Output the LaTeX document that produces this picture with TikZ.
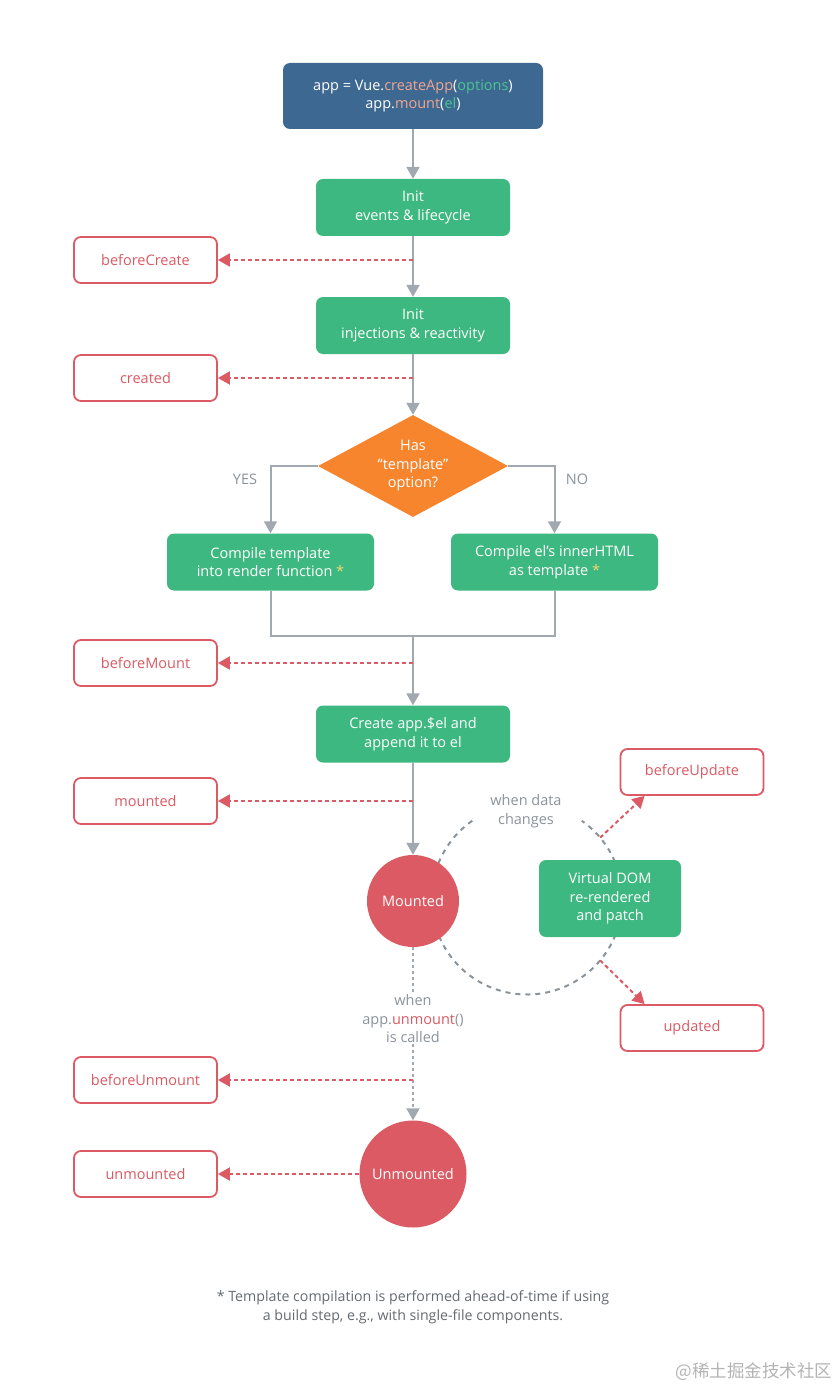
\documentclass[tikz,border=0pt]{standalone}
\usepackage{fontspec}
\setmainfont{Open Sans}
\newfontfamily\cjkfont{Noto Sans CJK SC}
\usepackage{xcolor}
\usetikzlibrary{arrows.meta,shapes.geometric,positioning}
\definecolor{appblue}{HTML}{3D6892}
\definecolor{flowgreen}{HTML}{3DB880}
\definecolor{askorange}{HTML}{F6852E}
\definecolor{hookred}{HTML}{DB5A63}
\definecolor{linegray}{HTML}{A1A8AF}
\definecolor{notegray}{HTML}{8B939B}
\definecolor{footgray}{HTML}{666B70}
\definecolor{fnsalmon}{HTML}{F3A58E}
\definecolor{argteal}{HTML}{4CC58E}
\definecolor{stargold}{HTML}{F5D874}
\definecolor{markgray}{HTML}{B4B4B4}
\tikzset{
    box-text/.style = {align=center, font=\fontsize{14.5}{18.5}\selectfont},
    app-box/.style = {box-text, fill=appblue, text=white, rounded corners=7pt, minimum width=260pt, minimum height=66pt, inner sep=0pt},
    flow-box/.style = {box-text, fill=flowgreen, text=white, rounded corners=7pt, minimum width=194pt, minimum height=57pt, inner sep=0pt},
    hook-box/.style = {box-text, draw=hookred, line width=1.8pt, fill=white, text=hookred, rounded corners=7pt, minimum width=143pt, minimum height=46pt, inner sep=0pt},
    decision/.style = {box-text, diamond, fill=askorange, text=white, inner sep=0pt, shape aspect=1.86, minimum width=190pt, minimum height=102pt},
    state-circle/.style = {box-text, circle, fill=hookred, text=white, inner sep=0pt},
    note-text/.style = {box-text, text=notegray, inner sep=1pt},
    flow-line/.style = {draw=linegray, line width=2pt},
    flow-arrow/.style = {flow-line, -{Triangle[length=12pt,width=13pt]}},
    dotted-line/.style = {flow-line, dash pattern=on 3pt off 3pt},
    hook-arrow/.style = {draw=hookred, line width=2pt, dash pattern=on 4pt off 3pt, -{Triangle[length=12pt,width=13pt]}},
    loop-line/.style = {draw=notegray, line width=2pt, dash pattern=on 5pt off 5pt},
}
\newcommand{\tplstar}{\textcolor{stargold}{*}}

\begin{document}
\begin{tikzpicture}[x=1pt,y=1pt]
\fill[white] (0,0) rectangle (838,-1388);
\useasboundingbox (0,0) rectangle (838,-1388);

% update loop, behind the nodes
\coordinate (loop) at (527,-899);
\draw[loop-line] ([shift={(125:95.5pt)}]loop) arc[start angle=125, end angle=415, radius=95.5pt];

% main flow
\node[app-box] (app) at (413,-96) {app = Vue.\textcolor{fnsalmon}{createApp}(\textcolor{argteal}{options})\\app.\textcolor{fnsalmon}{mount}(\textcolor{argteal}{el})};
\node[flow-box] (init-events) at (413,-207.5) {Init\\events \& lifecycle};
\node[flow-box] (init-inject) at (413,-325.5) {Init\\injections \& reactivity};
\node[decision] (has-tpl) at (413,-466) {Has\\“template”\\option?};
\node[flow-box, minimum width=207pt] (compile-tpl) at (270.5,-562) {Compile template\\into render function \tplstar};
\node[flow-box, minimum width=207pt] (compile-html) at (554.5,-562) {Compile el’s innerHTML\\as template \tplstar};
\coordinate (merge) at (413,-636);
\node[flow-box] (create-el) at (413,-734) {Create app.\$el and\\append it to el};
\node[state-circle, minimum size=92pt] (mounted) at (413,-901) {Mounted};
\node[flow-box, minimum width=142pt, minimum height=77pt] (vdom) at (610,-898.5) {Virtual DOM\\re-rendered\\and patch};
\node[note-text] (unmount-when) at (413,-1019) {when\\app.\textcolor{hookred}{unmount}()\\is called};
\node[state-circle, minimum size=107pt] (unmounted) at (413,-1174) {Unmounted};

% labels
\node[note-text] (yes) at (245,-479) {YES};
\node[note-text] (no) at (577,-479) {NO};
\node[note-text] (data-changes) at (526,-811) {when data\\changes};

% hooks
\node[hook-box] (before-create) at (145.5,-260) {beforeCreate};
\node[hook-box] (created) at (145.5,-378) {created};
\node[hook-box] (before-mount) at (145.5,-663) {beforeMount};
\node[hook-box] (mounted-hook) at (145.5,-801) {mounted};
\node[hook-box] (before-update) at (692,-772) {beforeUpdate};
\node[hook-box] (updated) at (692,-1028) {updated};
\node[hook-box] (before-unmount) at (145.5,-1080) {beforeUnmount};
\node[hook-box] (unmounted-hook) at (145.5,-1174) {unmounted};

% connectors
\draw[flow-arrow] (app) -- (init-events);
\draw[flow-arrow] (init-events) -- (init-inject);
\draw[flow-arrow] (init-inject) -- (has-tpl);
\draw[flow-arrow] (has-tpl.west) -| (compile-tpl.north);
\draw[flow-arrow] (has-tpl.east) -| (compile-html.north);
\draw[flow-line] (compile-tpl.south) |- (merge) -| (compile-html.south);
\draw[flow-arrow] (merge) -- (create-el);
\draw[flow-arrow] (create-el) -- (mounted);
\draw[dotted-line] (mounted) -- (unmount-when);
\draw[dotted-line, -{Triangle[length=12pt,width=13pt]}] (unmount-when) -- (unmounted);

\draw[hook-arrow] (init-events.south |- before-create) -- (before-create.east);
\draw[hook-arrow] (init-inject.south |- created) -- (created.east);
\draw[hook-arrow] (merge |- before-mount) -- (before-mount.east);
\draw[hook-arrow] (create-el.south |- mounted-hook) -- (mounted-hook.east);
\draw[hook-arrow] ([shift={(40:95.5pt)}]loop) -- ([xshift=25pt]before-update.south west);
\draw[hook-arrow] ([shift={(-40:95.5pt)}]loop) -- ([xshift=25pt]updated.north west);
\draw[hook-arrow] (unmounted.north |- before-unmount) -- (before-unmount.east);
\draw[hook-arrow] (unmounted) -- (unmounted-hook);

% footnote
\node[box-text, text=footgray, font=\fontsize{14.2}{19}\selectfont] (footnote) at (413,-1307) {* Template compilation is performed ahead-of-time if using\\a build step, e.g., with single-file components.};
\node[text=markgray, font=\cjkfont\fontsize{17.5}{20}\selectfont] (watermark) at (754,-1372) {@稀土掘金技术社区};
\end{tikzpicture}
\end{document}
